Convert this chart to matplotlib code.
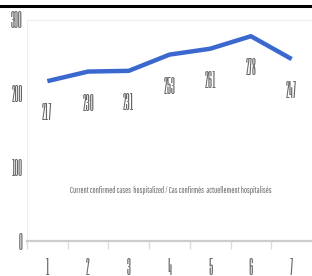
import matplotlib
matplotlib.use("Agg")
import matplotlib.pyplot as plt
from matplotlib.lines import Line2D

days = [1, 2, 3, 4, 5, 6, 7]
hospitalized = [217, 230, 231, 253, 261, 278, 247]
y_ticks = [0, 100, 200, 300]
caption = "Current confirmed cases  hospitalized / Cas confirmés  actuellement hospitalisés"

num_font = ["Six Caps", "DejaVu Sans"]
cap_font = ["Pathway Gothic One", "DejaVu Sans"]
txt_color = "#666666"

fig = plt.figure(figsize=(3.12, 2.76), dpi=100)
ax = fig.add_axes([27 / 312, 35 / 276, 285 / 312, 221 / 276])

ax.plot(days, hospitalized, color="#3a68cf", lw=3.2, solid_capstyle="butt", zorder=3)

for d, v in zip(days, hospitalized):
    ax.annotate(str(v), (d, v), xytext=(0, -22), textcoords="offset points",
                ha="center", va="center", fontsize=13.5, family=num_font, color=txt_color)

ax.text(0.505, 0.23, caption, transform=ax.transAxes, ha="center", va="center",
        fontsize=5.9, family=cap_font, color=txt_color)

ax.set_xlim(0.5, 7.5)
ax.set_ylim(0, 300)
ax.set_xticks(days)
ax.set_xticks([d - 0.5 for d in days], minor=True)
ax.set_yticks(y_ticks)
ax.tick_params(axis="x", which="major", length=0, pad=12, labelsize=13.5, labelcolor=txt_color)
ax.tick_params(axis="x", which="minor", length=6, color="#dddddd", width=1)
ax.tick_params(axis="y", length=0, pad=3, labelsize=13.5, labelcolor=txt_color)
for lab in ax.get_xticklabels() + ax.get_yticklabels():
    lab.set_family(num_font)

for side in ["top", "right"]:
    ax.spines[side].set_visible(False)
ax.spines["left"].set_color("#eeeeee")
ax.spines["left"].set_linewidth(0.8)
ax.spines["bottom"].set_color("#cccccc")
ax.spines["bottom"].set_linewidth(1.6)
ax.axhline(300, color="#eeeeee", lw=0.8, clip_on=False)

fig.add_artist(Line2D([0, 1], [0.978, 0.978], transform=fig.transFigure, color="black", lw=2.2))

fig.savefig("out.png", dpi=100)
